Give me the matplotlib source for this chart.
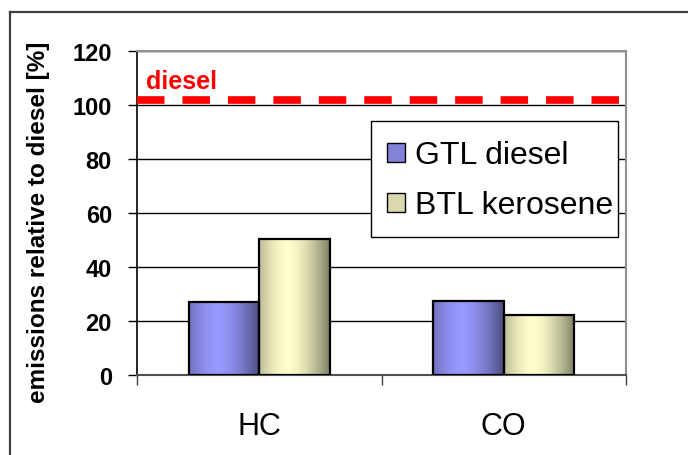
import numpy as np
import matplotlib
matplotlib.use("Agg")
import matplotlib.pyplot as plt
from matplotlib.patches import Rectangle
from matplotlib.lines import Line2D

plt.rcParams['font.family'] = ['Liberation Sans', 'DejaVu Sans']

# data
categories = ["HC", "CO"]
series_names = ["GTL diesel", "BTL kerosene"]
gtl_diesel = [26.9, 27.5]
btl_kerosene = [50.2, 22.3]
diesel_ref = 102
yticks = [0, 20, 40, 60, 80, 100, 120]

light = [np.array([153, 153, 255]) / 255, np.array([255, 255, 204]) / 255]
dark = [c * 0.5 for c in light]


def gradient(lo, hi, peak=0.4, n=64):
    t = np.linspace(0, 1, n)
    w = 1 - (np.abs(t - peak) / max(peak, 1 - peak)) ** 1.6
    w = np.clip(w, 0, 1)
    img = lo[None, :] + (hi - lo)[None, :] * w[:, None]
    return img[None, :, :]


W, H = 688, 456
fig = plt.figure(figsize=(W / 100, H / 100), dpi=100)
ax = fig.add_axes([137 / W, 1 - 376 / H, (626 - 137) / W, (376 - 52) / H])

x = np.arange(len(categories))
w = 0.288
for i, vals in enumerate([gtl_diesel, btl_kerosene]):
    bars = ax.bar(x + (i - 0.5) * w, vals, width=w, facecolor='none',
                  edgecolor='black', linewidth=1.6, zorder=3)
    for b in bars:
        x0, y0 = b.get_x(), b.get_y()
        im = ax.imshow(gradient(dark[i], light[i]), aspect='auto', zorder=2.9,
                       extent=[x0, x0 + b.get_width(), y0, y0 + b.get_height()],
                       interpolation='bilinear')
        im.set_clip_path(b)

ax.set_xlim(-0.5, 1.5)
ax.set_ylim(0, 120)

# reference line for diesel
ax.axhline(diesel_ref, xmin=0, xmax=(632 - 137) / (626 - 137), color='#ff0000',
           lw=5.5, dashes=(3.6, 2.35), solid_capstyle='butt', dash_capstyle='butt',
           clip_on=False, zorder=5)
ax.text(-0.465, diesel_ref + 2.5, "diesel", color='#ff0000', fontsize=18,
        fontweight='bold', ha='left', va='bottom')

# axes styling
ax.set_yticks(yticks)
ax.set_yticklabels([str(v) for v in yticks])
ax.tick_params(axis='y', length=6.5, width=1, pad=11.5, direction='out', labelsize=17)
for lab in ax.get_yticklabels():
    lab.set_fontweight('bold')
ax.set_xticks([-0.5, 0.5, 1.5])
ax.set_xticklabels([])
ax.tick_params(axis='x', which='major', length=7, width=1, color='#404040')
ax.set_xticks(x, minor=True)
ax.set_xticklabels(categories, minor=True)
ax.tick_params(axis='x', which='minor', length=0, pad=26, labelsize=22)
ax.grid(axis='y', color='black', lw=1)
ax.set_axisbelow(True)
for s in ['top', 'right']:
    ax.spines[s].set_color('#909090')
    ax.spines[s].set_linewidth(1.5)
ax.spines['bottom'].set_color('#505050')
ax.spines['bottom'].set_linewidth(1.5)
ax.spines['left'].set_color('black')
ax.spines['left'].set_linewidth(1.2)

fig.text(39 / W, 1 - 222 / H, "emissions relative to diesel [%]", rotation=90,
         fontsize=17.5, fontweight='bold', ha='center', va='center')

# legend box (drawn by hand so the label can run up to the border like the original)
fig.add_artist(Rectangle((371 / W, 1 - 238 / H), (618 - 371) / W, (238 - 122) / H,
                         transform=fig.transFigure, facecolor='white', edgecolor='black',
                         linewidth=1, zorder=6))
for i, (name, cy) in enumerate(zip(series_names, [153, 203])):
    fig.add_artist(Rectangle((387 / W, 1 - (cy + 9.5) / H), 18 / W, 19 / H,
                             transform=fig.transFigure,
                             facecolor=tuple(0.5 * (dark[i] + light[i]) + 0.2 * (light[i] - dark[i])),
                             edgecolor='black', linewidth=1, zorder=7))
    fig.text(415 / W, 1 - (cy + 11.5) / H, name, fontsize=23, ha='left',
             va='baseline', zorder=7)

# outer frame
fig.add_artist(Line2D([10 / W, 10 / W], [0, 1 - 13 / H], transform=fig.transFigure,
                      color='#404040', lw=1.6))
fig.add_artist(Line2D([10 / W, 1], [1 - 13 / H, 1 - 13 / H], transform=fig.transFigure,
                      color='#404040', lw=1.6))

fig.savefig("out.png", dpi=100)
